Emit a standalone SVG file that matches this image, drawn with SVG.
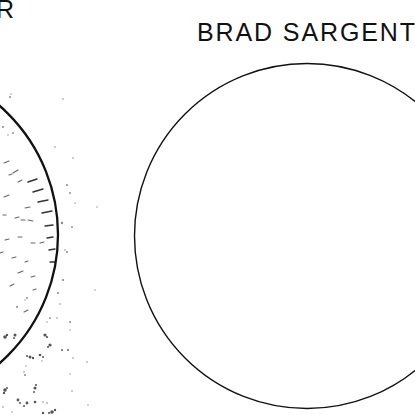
<svg xmlns="http://www.w3.org/2000/svg" width="415" height="415" viewBox="0 0 415 415">
<style>
.lbl{font-family:"Liberation Sans",Arial,sans-serif;font-size:25px;fill:#111}
.sp{fill:#8a8a8a}
.dk{fill:#555}
.ds{stroke:#666;stroke-width:1.1;stroke-linecap:round;fill:none}
.tk{stroke:#333;stroke-width:1.4;stroke-linecap:round;fill:none}
</style>
<rect width="415" height="415" fill="#fff"/>
<g id="stipple">
<g class="sp">
<circle cx="10" cy="97" r="1"/><circle cx="11" cy="94" r="0.7"/><circle cx="63" cy="99" r="0.8"/>
<circle cx="3" cy="127" r="1"/><circle cx="13" cy="133" r="0.9"/><circle cx="8" cy="135" r="0.7"/>
<circle cx="55" cy="147" r="0.8"/><circle cx="73" cy="158" r="0.8"/><circle cx="67" cy="185" r="1"/><circle cx="70" cy="193" r="0.9"/>
<circle cx="62" cy="223" r="1.2"/><circle cx="72" cy="227" r="0.9"/><circle cx="67" cy="252" r="1"/><circle cx="97" cy="207" r="0.7"/>
<circle cx="75" cy="203" r="0.7"/><circle cx="65" cy="250" r="0.8"/><circle cx="63" cy="280" r="1.1"/><circle cx="58" cy="293" r="1"/>
<circle cx="70" cy="322" r="1"/><circle cx="50" cy="318" r="0.9"/><circle cx="57" cy="318" r="0.8"/><circle cx="87" cy="362" r="0.8"/>
<circle cx="27" cy="298" r="0.9"/><circle cx="17" cy="307" r="1"/><circle cx="73" cy="358" r="0.8"/><circle cx="95" cy="290" r="0.7"/>
<circle cx="60" cy="304" r="0.8"/><circle cx="70" cy="330" r="0.7"/><circle cx="47" cy="322" r="0.7"/><circle cx="25" cy="300" r="0.7"/>
<circle cx="25" cy="375" r="1"/><circle cx="24" cy="372" r="0.8"/><circle cx="26" cy="366" r="0.7"/><circle cx="72" cy="391" r="0.8"/>
<circle cx="43" cy="402" r="0.8"/><circle cx="47" cy="403" r="0.8"/><circle cx="88" cy="405" r="0.7"/><circle cx="42" cy="361" r="0.7"/>
<circle cx="3" cy="407" r="0.8"/><circle cx="12" cy="412" r="0.7"/><circle cx="70" cy="374" r="0.7"/>
</g>
<g class="dk">
<circle cx="5" cy="337" r="1.8"/><circle cx="7" cy="335" r="1.2"/><circle cx="15" cy="335" r="1.5"/><circle cx="14" cy="338" r="1"/>
<circle cx="45" cy="335" r="1.6"/><circle cx="47" cy="337" r="1.1"/><circle cx="50" cy="345" r="1.6"/><circle cx="48" cy="347" r="1"/>
<circle cx="30" cy="357" r="1.5"/><circle cx="33" cy="358" r="1.2"/><circle cx="27" cy="356" r="1"/><circle cx="40" cy="355" r="1.3"/><circle cx="43" cy="357" r="1"/>
<circle cx="62" cy="350" r="0.9"/><circle cx="68" cy="350" r="0.9"/>
<circle cx="5" cy="390" r="1.8"/><circle cx="4" cy="393" r="1.2"/><circle cx="7" cy="388" r="1"/>
<circle cx="35" cy="388" r="1.5"/><circle cx="36" cy="385" r="1.1"/><circle cx="34" cy="392" r="1"/>
<circle cx="18" cy="400" r="1.4"/><circle cx="20" cy="403" r="1"/><circle cx="27" cy="403" r="1.4"/><circle cx="24" cy="406" r="1"/>
<circle cx="35" cy="402" r="1.3"/><circle cx="52" cy="412" r="1.8"/><circle cx="55" cy="410" r="1.2"/><circle cx="49" cy="413" r="1.1"/>
<circle cx="43" cy="413" r="1.2"/>
</g>
<g class="ds">
<path d="M4 163l5-2M13 173l5-3M18 182l4-2M4 197l5-2M25 208l5-1M15 218l4-1M21 220l4 0M28 220l5 1M5 240l4-1M18 237l4 0M31 243l4 0M40 243l4-1M18 273l5-2M31 277l4-1M0 253l3-1M9 175l3-1M3 215l3 0M12 258l4-1M25 262l3-1M10 286l4-2M33 290l3-1M24 312l4-2"/>
</g>
<g class="tk">
<path d="M28 182l9-3M33 192l10-3M38 202l10-2M42 213l10-2M45 226l8-1M47 238l6-1M49 250l6-1M50 262l5 0"/>
</g>
</g>
<g id="left-circle">
<circle cx="-113" cy="234.5" r="171" fill="none" stroke="#111" stroke-width="2.3"/>
</g>
<g id="right-circle">
<circle cx="307" cy="236" r="172.5" fill="none" stroke="#111" stroke-width="1.4"/>
</g>
<g id="labels">
<text class="lbl" x="-4" y="18">R</text>
<text class="lbl" x="197" y="41" textLength="218" lengthAdjust="spacing">BRAD SARGENT</text>
</g>
</svg>
